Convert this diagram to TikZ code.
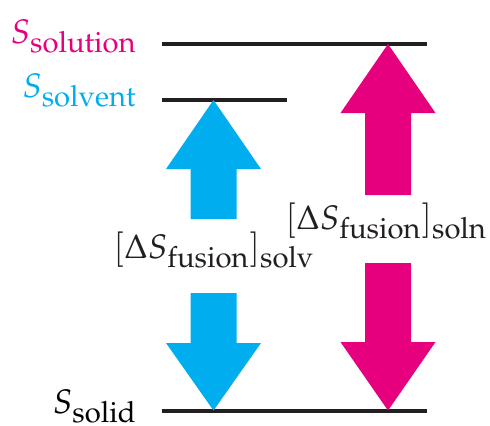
\documentclass[tikz,border=0pt]{standalone}
\usepackage{amsmath}
\usepackage{mathpazo}
\usepackage{xcolor}
\usetikzlibrary{calc,positioning}
\definecolor{rose}{HTML}{E6007E}
\definecolor{sky}{HTML}{00AEEF}
\definecolor{ink}{HTML}{231F20}
\DeclareMathSizes{17}{17}{14.6}{12}
\tikzset{
  every node/.style={font=\fontsize{17}{20}\selectfont,inner sep=0pt},
  level/.style={ink,line width=2pt},
  lvlab/.style={anchor=base east},
  dslab/.style={anchor=base west,ink},
}
% block arrow: colour, centre x, tail y, head base y, tip y
\newcommand\blockarrow[5]{%
  \fill[#1] ({#2-23},#3) -- ({#2+23},#3) -- ({#2+23},#4) -- ({#2+47.5},#4)
    -- (#2,#5) -- ({#2-47.5},#4) -- ({#2-23},#4) -- cycle;}

\begin{document}
\begin{tikzpicture}[x=0.5pt,y=0.5pt]
  \useasboundingbox (0,0) rectangle (490,425);
  % levels
  \coordinate (soln) at (162,381);
  \coordinate (solv) at (162,325);
  \coordinate (sld) at (162,14.5);
  \draw[level] (soln) -- +(265,0);
  \draw[level] (solv) -- +(125,0);
  \draw[level] (sld) -- +(265,0);
  \node[lvlab,rose] (Ssoln) at (137,382) {$S_{\mathrm{solution}}$};
  \node[lvlab,sky] (Ssolv) at (137,328) {$S_{\mathrm{solvent}}$};
  \node[lvlab] (Ssld) at (137,12) {$S_{\mathrm{solid}}$};
  % arrows
  \blockarrow{sky}{213.5}{206}{256}{325}
  \blockarrow{sky}{213.5}{132}{82}{14.5}
  \blockarrow{rose}{388}{230}{312}{381}
  \blockarrow{rose}{388}{162}{83}{14.5}
  % labels
  \node[dslab] (dsolv) at (113,167) {$[\Delta S_{\mathrm{fusion}}]_{\mathrm{solv}}$};
  \node[dslab] (dsoln) at (285,196) {$[\Delta S_{\mathrm{fusion}}]_{\mathrm{soln}}$};
\end{tikzpicture}
\end{document}
